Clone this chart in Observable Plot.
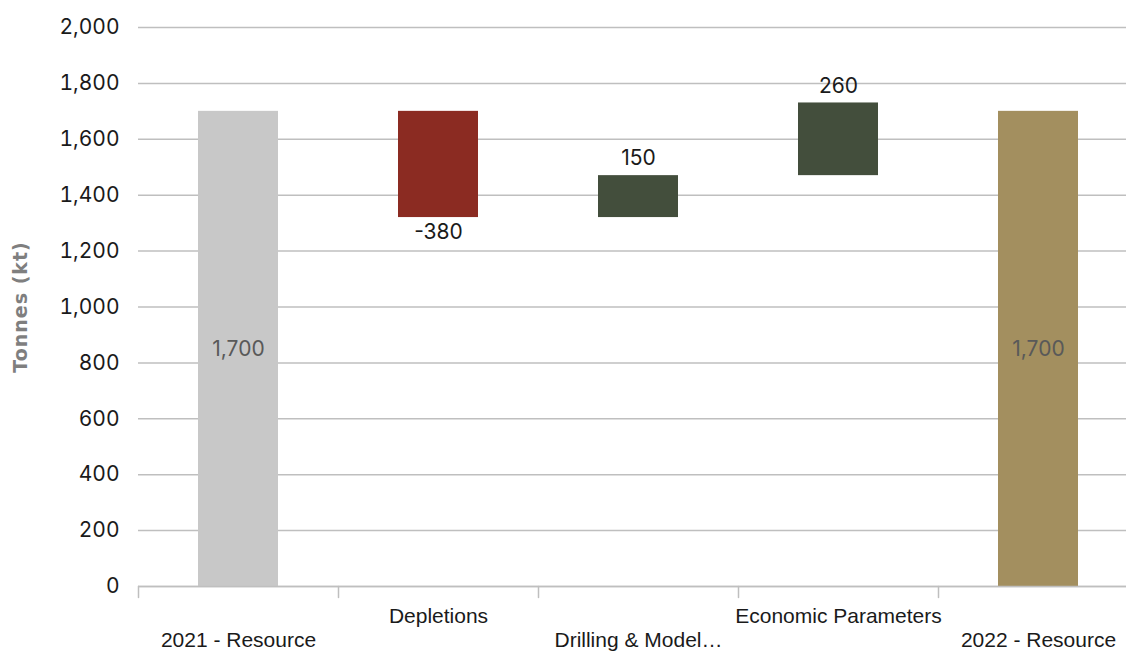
<!DOCTYPE html>
<html>
<head>
<meta charset="utf-8">
<script src="https://cdn.jsdelivr.net/npm/d3@7"></script>
<script src="https://cdn.jsdelivr.net/npm/@observablehq/plot@0.6"></script>
<style>
  html, body { margin: 0; padding: 0; background: #fff; overflow: hidden; }
  #chart { width: 1126px; height: 652px; overflow: hidden; }
  #chart svg { max-width: none !important; height: 652px !important; }
</style>
</head>
<body>
<div id="chart"></div>
<script>
const categories = ["2021 - Resource", "Depletions", "Drilling & Model…", "Economic Parameters", "2022 - Resource"];
const kinds = ["total", "delta", "delta", "delta", "total"];
const values = [1700, -380, 150, 260, 1700];
const valueLabels = ["1,700", "-380", "150", "260", "1,700"];
const colors = ["#c8c8c8", "#8b2b22", "#434e3c", "#434e3c", "#a38f5f"];
const yTicks = [0, 200, 400, 600, 800, 1000, 1200, 1400, 1600, 1800, 2000];
const upperRow = ["Depletions", "Economic Parameters"];
const lowerRow = ["2021 - Resource", "Drilling & Model…", "2022 - Resource"];
const yTitle = "Tonnes (kt)";

// build waterfall table
let running = 0;
const rows = categories.map((c, i) => {
  let y1, y2;
  if (kinds[i] === "total") { y1 = 0; y2 = values[i]; running = values[i]; }
  else { y1 = running; y2 = running + values[i]; running = y2; }
  return { cat: c, y1, y2, value: values[i], label: valueLabels[i], color: colors[i], kind: kinds[i] };
});

const numFont = "Inter, Lato, sans-serif";
const catFont = "'Liberation Sans', Arial, sans-serif";

const line = { draw(context, l) { context.moveTo(0, 0); context.lineTo(0, -l); } };

const chart = Plot.plot({
  width: 1138,
  height: 652,
  marginTop: 27,
  marginBottom: 66,
  marginLeft: 138,
  marginRight: 0,
  x: { domain: categories, paddingInner: 0.6, paddingOuter: 0.3, axis: null },
  y: { domain: [0, 2000], axis: null },
  marks: [
    Plot.gridY(yTicks, { stroke: "#bfbfbf", strokeOpacity: 1, strokeWidth: 1.5 }),
    Plot.axisY(yTicks, {
      tickSize: 0, tickPadding: 19, fontSize: 21, fontFamily: numFont,
      fill: "#1a1a1a", tickFormat: d3.format(","), label: null
    }),
    Plot.text([yTitle], {
      frameAnchor: "left", dx: -118, rotate: -90, textAnchor: "middle", fontSize: 19, fontWeight: "bold",
      fill: "#7f7f7f", fontFamily: "'DejaVu Sans', sans-serif"
    }),
    Plot.rectY(rows, { x: "cat", y1: "y1", y2: "y2", fill: "color" }),
    Plot.ruleY([0], { stroke: "#bfbfbf", strokeWidth: 1.5 }),
    Plot.vector(categories, { x: d => d, y: () => 0, dx: -100, length: 11, rotate: 180, anchor: "start", shape: line, stroke: "#bfbfbf", strokeWidth: 1.5 }),
    Plot.vector([categories[categories.length - 1]], { x: d => d, y: () => 0, dx: 100, length: 11, rotate: 180, anchor: "start", shape: line, stroke: "#bfbfbf", strokeWidth: 1.5 }),
    // value labels
    Plot.text(rows.filter(d => d.kind === "total"), {
      x: "cat", y: d => (d.y1 + d.y2) / 2, text: "label", fontSize: 21, fontFamily: numFont, fill: "#595959"
    }),
    Plot.text(rows.filter(d => d.kind === "delta" && d.value < 0), {
      x: "cat", y: "y2", text: "label", dy: 15, fontSize: 21, fontFamily: numFont, fill: "#1a1a1a"
    }),
    Plot.text(rows.filter(d => d.kind === "delta" && d.value > 0), {
      x: "cat", y: "y2", text: "label", dy: -17, fontSize: 21, fontFamily: numFont, fill: "#1a1a1a"
    }),
    Plot.axisX(upperRow, {
      tickSize: 0, tickPadding: 22, fontSize: 21, fontFamily: catFont, fill: "#1a1a1a", label: null
    }),
    Plot.axisX(lowerRow, {
      tickSize: 0, tickPadding: 46, fontSize: 21, fontFamily: catFont, fill: "#1a1a1a", label: null
    })
  ]
});

d3.select(chart).selectAll("text").filter(function () { return this.textContent === yTitle; })
  .style("letter-spacing", "1px");

document.getElementById("chart").appendChild(chart);
</script>
</body>
</html>
